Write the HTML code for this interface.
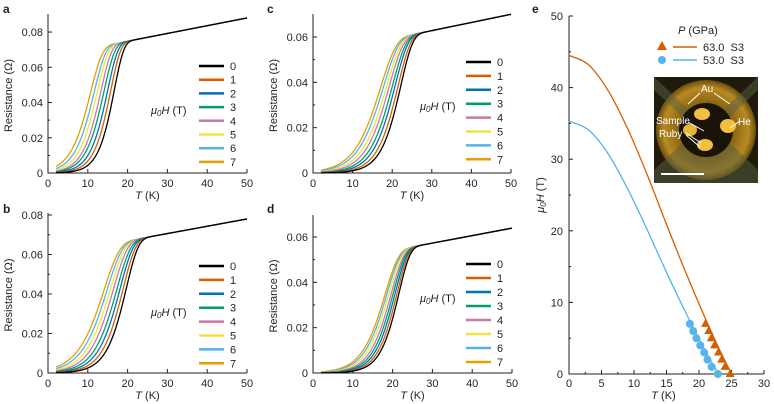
<!DOCTYPE html>
<html><head><meta charset="utf-8"><style>
body{margin:0;background:#fff}
svg{display:block;font-family:"Liberation Sans",Arial,sans-serif;fill:#231f20}
</style></head><body>
<svg id="fig" width="774" height="404" viewBox="0 0 774 404" xmlns="http://www.w3.org/2000/svg">
<defs>
<radialGradient id="gold" cx="50%" cy="50%" r="50%">
<stop offset="0%" stop-color="#4a3606"/><stop offset="55%" stop-color="#8a6612"/><stop offset="85%" stop-color="#b88a24"/><stop offset="100%" stop-color="#6a4e0e"/>
</radialGradient>
</defs>
</svg>
<script>
// ---- data ----
const fields = [0,1,2,3,4,5,6,7];
const fieldColors = ['#000000','#d55e00','#0072b2','#009e73','#cc79a7','#f0e442','#56b4e9','#e69f00'];
const tempTicks = [0,10,20,30,40,50];
// per panel: transition location (K), widths (K), normal-state intercept & slope
const midA = [16.6,15.7,14.9,14.0,13.2,12.3,11.5,10.6];
const widA = [2.4,2.5,2.6,2.7,2.7,2.8,2.9,3.0];
const rnA = [0.066,0.00044];
const midB = [19.6,18.8,18.0,17.2,16.3,15.5,14.7,13.9];
const widB = [3.0,3.15,3.3,3.45,3.55,3.7,3.85,4.0];
const rnB = [0.0595,0.00037];
const midC = [22.1,21.4,20.6,19.9,19.1,18.4,17.6,16.9];
const widC = [3.0,3.15,3.3,3.45,3.6,3.75,3.9,4.0];
const rnC = [0.052,0.00036];
const midD = [21.5,21.0,20.5,20.0,19.5,18.9,18.4,17.95];
const widD = [2.8,2.9,3.0,3.1,3.2,3.3,3.4,3.5];
const rnD = [0.0474,0.00033];
const resTicksAB = [0,0.02,0.04,0.06,0.08];
const resLabelsAB = ['0','0.02','0.04','0.06','0.08'];
const resTicksCD = [0,0.02,0.04,0.06];
const resLabelsCD = ['0','0.02','0.04','0.06'];
// panel e
const eTTicks = [0,5,10,15,20,25,30];
const eHTicks = [0,10,20,30,40,50];
const fitT63 = [0,3,6,9,12,15,18,21,23,25];
const fitH63 = [44.5,43.2,39.6,34.3,27.9,20.9,14.1,7.7,3.7,0];
const fitT53 = [0,3,6,9,12,15,18,21,23];
const fitH53 = [35.3,34.1,30.8,25.9,20.2,14.2,8.5,3.2,0];
const ptH = [0,1,2,3,4,5,6,7];
const ptT63 = [24.8,24.0,23.5,23.0,22.4,21.9,21.5,21.0];
const ptT53 = [22.9,21.95,21.3,20.8,20.2,19.6,19.1,18.6];

// ---- drawing ----
const svg = document.getElementById('fig');
const NS = 'http://www.w3.org/2000/svg';
function mk(tag, attrs, parent){const e=document.createElementNS(NS,tag);for(const k in attrs)e.setAttribute(k,attrs[k]);(parent||svg).appendChild(e);return e;}
function txt(s,x,y,size,anchor,parent){const t=mk('text',{x:x,y:y,'font-size':size,'text-anchor':anchor||'start'},parent);t.textContent=s;return t;}

function panel(cfg){
  const g = mk('g',{});
  
  
  const sx = t => cfg.x0 + (cfg.x1-cfg.x0)*t/50;
  const sy = r => cfg.y0 - r*cfg.yPer;
  const ax = mk('path',{d:`M${cfg.x0},${cfg.yTop}V${cfg.y0}H${cfg.x1}`,stroke:'#231f20','stroke-width':1,fill:'none'},g);
  
  
  cfg.yTicks.forEach((v,i)=>{
    mk('line',{x1:cfg.x0,x2:cfg.x0+4,y1:sy(v),y2:sy(v),stroke:'#231f20'},g);
    if(i<cfg.yTicks.length-1) mk('line',{x1:cfg.x0,x2:cfg.x0+2,y1:sy(v+0.01),y2:sy(v+0.01),stroke:'#231f20'},g);
    const l=txt(cfg.yLabels[i],cfg.x0-5,sy(v)+4,11,'end',g);
    
    
  });
  tempTicks.forEach(v=>{
    mk('line',{x1:sx(v),x2:sx(v),y1:cfg.y0,y2:cfg.y0-4,stroke:'#231f20'},g);
    const l=txt(String(v),sx(v),cfg.y0+14,11,'middle',g);
    
    
  });
  const xt=mk('text',{x:(cfg.x0+cfg.x1)/2,y:cfg.y0+26,'font-size':11,'text-anchor':'middle'},g);
  xt.innerHTML='<tspan font-style="italic">T</tspan> (K)';
  
  
  const yt=mk('text',{x:0,y:0,'font-size':11,'text-anchor':'middle',transform:`translate(${cfg.x0-36},${(cfg.yTop+cfg.y0)/2+2}) rotate(-90)`},g);
  yt.textContent='Resistance (Ω)';
  
  
  const pl=mk('text',{x:cfg.lx,y:cfg.ly,'font-size':12,'font-weight':'bold'},g);
  pl.textContent=cfg.id;
  
  
  for(let k=fields.length-1;k>=0;k--){
    let d='';
    for(let T=2;T<=50.001;T+=0.25){
      const rn=cfg.rn[0]+cfg.rn[1]*T;
      const R=rn*(1-Math.exp(-Math.exp((T-cfg.mid[k])/cfg.wid[k])));
      d+=(d?'L':'M')+sx(T).toFixed(2)+','+sy(R).toFixed(2);
    }
    const p=mk('path',{d:d,stroke:fieldColors[k],'stroke-width':1.3,fill:'none'},g);
    
    
  }
  fields.forEach((f,i)=>{
    const y=cfg.legY+i*cfg.legStep;
    const ln=mk('line',{x1:cfg.legX,x2:cfg.legX+25,y1:y,y2:y,stroke:fieldColors[i],'stroke-width':2.5},g);
    
    
    const t=txt(String(f),cfg.legX+31,y+4,11,'start',g);
    
    
  });
  const mt=mk('text',{x:cfg.muX,y:cfg.muY,'font-size':11},g);
  mt.innerHTML='<tspan font-style="italic">μ</tspan><tspan font-style="italic" font-size="8" dy="2">0</tspan><tspan font-style="italic" dy="-2">H</tspan> (T)';
  
  
}

panel({id:'a',x0:48,x1:247,y0:173,yPer:1762,yTop:14,yTicks:resTicksAB,yLabels:resLabelsAB,mid:midA,wid:widA,rn:rnA,lx:3,ly:13,legX:199,legY:66,legStep:13.7,muX:151,muY:114});
panel({id:'b',x0:48,x1:247,y0:373,yPer:1975,yTop:213,yTicks:resTicksAB,yLabels:resLabelsAB,mid:midB,wid:widB,rn:rnB,lx:3,ly:213,legX:199,legY:266,legStep:13.9,muX:151,muY:316});
panel({id:'c',x0:313,x1:511,y0:173,yPer:2267,yTop:14,yTicks:resTicksCD,yLabels:resLabelsCD,mid:midC,wid:widC,rn:rnC,lx:267,ly:13,legX:466,legY:62,legStep:13.9,muX:420,muY:110});
panel({id:'d',x0:313,x1:512,y0:373,yPer:2267,yTop:215,yTicks:resTicksCD,yLabels:resLabelsCD,mid:midD,wid:widD,rn:rnD,lx:267,ly:213,legX:466,legY:264,legStep:14,muX:420,muY:302});

// ---- panel e ----
(function(){
  const g=mk('g',{});
  
  
  const x0=569,x1=764,y0=374,y1=16;
  const sx=t=>x0+(x1-x0)*t/30, sy=h=>y0-(y0-y1)*h/50;
  const ax=mk('path',{d:`M${x0},${y1}V${y0}H${x1}`,stroke:'#231f20',fill:'none'},g);
  
  
  eHTicks.forEach((v,i)=>{
    mk('line',{x1:x0,x2:x0+4,y1:sy(v),y2:sy(v),stroke:'#231f20'},g);
    if(i<eHTicks.length-1) mk('line',{x1:x0,x2:x0+2,y1:sy(v+5),y2:sy(v+5),stroke:'#231f20'},g);
    const l=txt(String(v),x0-6,sy(v)+4,11,'end',g);
    
    
  });
  eTTicks.forEach((v,i)=>{
    mk('line',{x1:sx(v),x2:sx(v),y1:y0,y2:y0-4,stroke:'#231f20'},g);
    if(i<eTTicks.length-1) mk('line',{x1:sx(v+2.5),x2:sx(v+2.5),y1:y0,y2:y0-2,stroke:'#231f20'},g);
    const l=txt(String(v),sx(v),y0+13,11,'middle',g);
    
    
  });
  const xt=mk('text',{x:(x0+x1)/2-3,y:y0+25,'font-size':11,'text-anchor':'middle'},g);
  xt.innerHTML='<tspan font-style="italic">T</tspan> (K)';
  
  
  const yt=mk('text',{x:0,y:0,'font-size':11,'text-anchor':'middle',transform:`translate(544,195) rotate(-90)`},g);
  yt.innerHTML='<tspan font-style="italic">μ</tspan><tspan font-style="italic" font-size="8" dy="2">0</tspan><tspan font-style="italic" dy="-2">H</tspan> (T)';
  
  
  const pl=mk('text',{x:532,y:13,'font-size':12,'font-weight':'bold'},g);
  pl.textContent='e';
  
  
  function smooth(Ts,Hs){
    const P=Ts.map((t,i)=>[sx(t),sy(Hs[i])]);
    let d='M'+P[0][0]+','+P[0][1];
    for(let i=0;i<P.length-1;i++){
      const p0=P[Math.max(0,i-1)],p1=P[i],p2=P[i+1],p3=P[Math.min(P.length-1,i+2)];
      const c1=[p1[0]+(p2[0]-p0[0])/6,p1[1]+(p2[1]-p0[1])/6],c2=[p2[0]-(p3[0]-p1[0])/6,p2[1]-(p3[1]-p1[1])/6];
      d+=`C${c1[0]},${c1[1]} ${c2[0]},${c2[1]} ${p2[0]},${p2[1]}`;
    }
    return d;
  }
  const f63=mk('path',{d:smooth(fitT63,fitH63),stroke:'#d55e00','stroke-width':1.3,fill:'none'},g);
  
  
  const f53=mk('path',{d:smooth(fitT53,fitH53),stroke:'#56b4e9','stroke-width':1.3,fill:'none'},g);
  
  
  ptH.forEach((h,i)=>{
    const c=mk('circle',{cx:sx(ptT53[i]),cy:sy(h),r:4,fill:'#56b4e9'},g);
    
    
  });
  ptH.forEach((h,i)=>{
    const cx=sx(ptT63[i]),cy=sy(h);
    const p=mk('path',{d:`M${cx},${cy-5}L${cx+4.5},${cy+3}L${cx-4.5},${cy+3}Z`,fill:'#d55e00'},g);
    
    
  });
  const lt=mk('text',{x:678,y:34,'font-size':11},g);
  lt.innerHTML='<tspan font-style="italic">P</tspan> (GPa)';
  
  
  const tri=mk('path',{d:'M662,41L667,50L657,50Z',fill:'#d55e00'},g);
  
  
  mk('line',{x1:673,x2:697,y1:47,y2:47,stroke:'#d55e00','stroke-width':1.5},g);
  const l1=txt('63.0  S3',703,51,11,'start',g);
  l1.setAttribute('style','white-space:pre');
  
  
  const cm=mk('circle',{cx:662,cy:60,r:4,fill:'#56b4e9'},g);
  
  
  mk('line',{x1:673,x2:697,y1:60,y2:60,stroke:'#56b4e9','stroke-width':1.5},g);
  const l2=txt('53.0  S3',703,64,11,'start',g);
  l2.setAttribute('style','white-space:pre');
  
  
  const ins=mk('g',{},g);
  
  
  mk('rect',{x:654,y:77,width:104,height:106,fill:'#1e1a0c'},ins);
  mk('circle',{cx:706,cy:130,r:50,fill:'url(#gold)'},ins);
  mk('path',{d:'M654,77L700,120L712,120L758,77L758,90L716,130L758,170L758,183L654,183L654,170L696,130L654,90Z',fill:'#5a6040',opacity:'0.5'},ins);
  mk('circle',{cx:706,cy:130,r:27,fill:'#1a1408'},ins);
  mk('ellipse',{cx:702,cy:114,rx:8,ry:6,fill:'#f0c040'},ins);
  mk('ellipse',{cx:728,cy:126,rx:8,ry:7,fill:'#f0c040'},ins);
  mk('ellipse',{cx:690,cy:130,rx:7,ry:6,fill:'#e8b838'},ins);
  mk('ellipse',{cx:705,cy:145,rx:8,ry:6,fill:'#f0c040'},ins);
  mk('line',{x1:661,x2:704,y1:174,y2:174,stroke:'#fff','stroke-width':2},ins);
  const arrows=[[700,93,688,104],[714,93,730,104],[688,122,704,131],[686,133,701,143],[686,135,700,147],[740,121,730,128]];
  arrows.forEach(a=>mk('line',{x1:a[0],y1:a[1],x2:a[2],y2:a[3],stroke:'#fff','stroke-width':1},ins));
  [['Au',701,92],['Sample',656,124],['Ruby',659,137],['He',738,125]].forEach(s=>{
    const t=mk('text',{x:s[1],y:s[2],'font-size':10,style:'fill:#fff'},ins);
    t.textContent=s[0];
    
    
  });
})();
</script>
</body></html>
